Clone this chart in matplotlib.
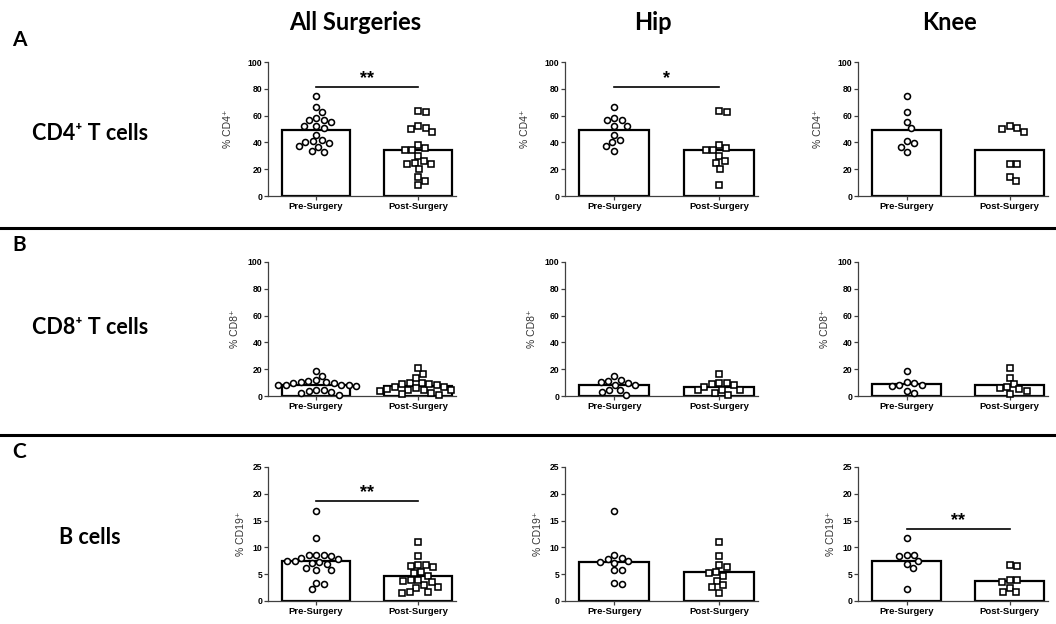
import numpy as np
import matplotlib.pyplot as plt
from matplotlib.lines import Line2D

# per-patient values; "All Surgeries" pools hip + knee
cd4_hip_pre = [66.2, 58.2, 56.5, 56.5, 52.2, 52.2, 45.8, 41.8, 40.0, 37.1, 33.8]
cd4_hip_post = [63.7, 62.7, 38.3, 35.8, 34.6, 34.6, 29.9, 26.4, 24.9, 20.4, 8.0]
cd4_knee_pre = [74.4, 62.7, 55.2, 50.7, 40.8, 39.3, 36.8, 33.1]
cd4_knee_post = [52.0, 51.0, 50.0, 48.0, 23.9, 23.9, 14.4, 11.2]

cd8_hip_pre = [15.2, 12.2, 11.4, 10.2, 9.7, 8.5, 8.5, 4.5, 4.5, 3.0, 1.0]
cd8_hip_post = [16.2, 10.0, 10.0, 8.7, 8.0, 7.0, 4.7, 4.5, 4.2, 2.5, 1.0]
cd8_knee_pre = [18.7, 10.4, 9.7, 8.5, 8.0, 7.7, 4.0, 2.5]
cd8_knee_post = [20.9, 13.7, 9.2, 6.7, 6.2, 5.0, 4.0, 1.2]

cd19_hip_pre = [16.7, 8.6, 8.1, 7.8, 7.4, 7.3, 7.1, 5.7, 5.7, 3.35, 3.1]
cd19_hip_post = [11.0, 8.4, 6.8, 6.3, 5.5, 5.3, 4.7, 3.8, 2.9, 2.7, 1.5]
cd19_knee_pre = [11.7, 8.6, 8.6, 8.4, 7.4, 6.9, 6.2, 2.2]
cd19_knee_post = [6.8, 6.6, 3.9, 3.9, 3.5, 2.4, 1.7, 1.7]

column_titles = ['All Surgeries', 'Hip', 'Knee']
row_titles = ['CD4⁺ T cells', 'CD8⁺ T cells', 'B cells']
panel_letters = ['A', 'B', 'C']
y_labels = ['% CD4⁺', '% CD8⁺', '% CD19⁺']
y_max = [100, 100, 25]
y_step = [20, 20, 5]
groups = ['Pre-Surgery', 'Post-Surgery']

# (row, col) -> stars, bracket height
significance = {(0, 0): ('**', 81), (0, 1): ('*', 81),
                (2, 0): ('**', 18.6), (2, 2): ('**', 13.5)}

hip = [(cd4_hip_pre, cd4_hip_post), (cd8_hip_pre, cd8_hip_post), (cd19_hip_pre, cd19_hip_post)]
knee = [(cd4_knee_pre, cd4_knee_post), (cd8_knee_pre, cd8_knee_post), (cd19_knee_pre, cd19_knee_post)]

plt.rcParams['font.family'] = ['Liberation Sans', 'DejaVu Sans']
plt.rcParams['font.weight'] = 'bold'

W, H = 1056, 624
fig = plt.figure(figsize=(W / 100, H / 100), dpi=100)

col_left = [268, 565, 858]
col_width = [188, 193, 190]
row_top = [62, 262, 467]
ax_h = 134
ylab_off = [35, 28, 22]


def swarm_x(ax, center, vals, diam=7.5):
    # spread markers sideways (pixel space) so that they don't overlap
    tr = ax.transData
    cx = tr.transform((center, 0))[0]
    ys = np.array([tr.transform((center, v))[1] for v in vals])
    steps = np.arange(0.5, 80, 0.5)
    cands = np.concatenate([[0.0], np.column_stack([steps, -steps]).ravel()])
    xs = np.full(len(vals), cx)
    placed = []
    for i in np.argsort(-ys):
        for dx in cands:
            if all((cx + dx - px) ** 2 + (ys[i] - py) ** 2 >= diam ** 2 for px, py in placed):
                break
        xs[i] = cx + dx
        placed.append((xs[i], ys[i]))
    inv = tr.inverted()
    return [inv.transform((x, y))[0] for x, y in zip(xs, ys)]


for r in range(3):
    for c in range(3):
        if c == 0:
            pre = hip[r][0] + knee[r][0]
            post = hip[r][1] + knee[r][1]
        elif c == 1:
            pre, post = hip[r]
        else:
            pre, post = knee[r]

        ax = fig.add_axes([col_left[c] / W, 1 - (row_top[r] + ax_h) / H,
                           col_width[c] / W, ax_h / H])
        ax.set_xlim(-0.47, 1.37)
        ax.set_ylim(0, y_max[r])
        ax.bar([0, 1], [np.mean(pre), np.mean(post)], width=0.67, color='white',
               edgecolor='black', linewidth=1.6, zorder=1)

        ax.plot(swarm_x(ax, 0, pre), pre, 'o', ms=4.3, mfc='white', mec='black',
                mew=1.15, zorder=3, clip_on=False)
        ax.plot(swarm_x(ax, 1, post), post, 's', ms=4.0, mfc='white', mec='black',
                mew=1.15, zorder=3, clip_on=False)

        for side in ['top', 'right']:
            ax.spines[side].set_visible(False)
        for side in ['left', 'bottom']:
            ax.spines[side].set_color('#404040')
            ax.spines[side].set_linewidth(0.9)
        ax.set_yticks(np.arange(0, y_max[r] + 1, y_step[r]))
        ax.set_xticks([0, 1])
        ax.set_xticklabels(groups, fontsize=6.8)
        ax.tick_params(axis='y', labelsize=6.2, length=3, width=0.9, pad=1, color='#404040')
        ax.tick_params(axis='x', length=3, width=0.9, pad=1.5, color='#404040')
        ax.set_ylabel(y_labels[r], fontsize=7.5, color='#333333')
        ax.yaxis.set_label_coords(-ylab_off[r] / col_width[c], 0.5)

        if (r, c) in significance:
            stars, h = significance[(r, c)]
            ax.plot([0, 1], [h, h], color='black', lw=1.2)
            ax.text(0.5, h, stars, ha='center', va='bottom', fontsize=13)

title_font = dict(family=['Lato', 'DejaVu Sans'], fontweight='bold', color='black')
for c, t in enumerate(column_titles):
    fig.text([355, 653, 950][c] / W, 1 - 22 / H, t, ha='center', va='center',
             fontsize=17, **title_font)
for r in range(3):
    fig.text(12 / W, 1 - [40, 245, 452][r] / H, panel_letters[r], ha='left',
             va='center', fontsize=15, **title_font)
    fig.text(90 / W, 1 - [133, 328, 537][r] / H, row_titles[r], ha='center',
             va='center', fontsize=15.5, **title_font)

for y in [228, 435]:
    fig.add_artist(Line2D([0, 1], [1 - y / H, 1 - y / H], transform=fig.transFigure,
                          color='black', lw=2.2))

fig.savefig('out.png', dpi=100, facecolor='white')
